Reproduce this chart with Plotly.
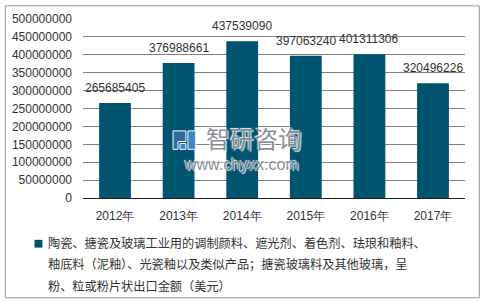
import plotly.graph_objects as go

# Export values (USD) by year
years = ["2012年", "2013年", "2014年", "2015年", "2016年", "2017年"]
export_usd = [265685405, 376988661, 437539090, 397063240, 401311306, 320496226]

legend_lines = [
    "陶瓷、搪瓷及玻璃工业用的调制颜料、遮光剂、着色剂、珐琅和釉料、",
    "釉底料（泥釉）、光瓷釉以及类似产品；搪瓷玻璃料及其他玻璃，呈",
    "粉、粒或粉片状出口金额（美元）",
]

W, H = 480, 301
L, R, T, B = 79, 15, 14, 103
PW, PH = W - L - R, H - T - B

BAR = "#005470"
TXT = "#333333"
LAT = "Liberation Sans, Arial, sans-serif"
CJK = "Noto Sans CJK SC, sans-serif"


def px(x):
    return (x - L) / PW


def py(y):
    return (H - B - y) / PH


fig = go.Figure(
    go.Bar(
        x=years,
        y=export_usd,
        marker=dict(color=BAR, line=dict(width=0)),
        showlegend=False,
    )
)

shapes = [
    # outer frame
    dict(type="rect", xref="paper", yref="paper",
         x0=px(0.5), x1=px(W - 0.5), y0=py(H - 0.5), y1=py(0.5),
         line=dict(color="#9a9a9a", width=1), layer="above"),
    # legend swatch
    dict(type="rect", xref="paper", yref="paper",
         x0=px(30), x1=px(38), y0=py(249), y1=py(241),
         fillcolor=BAR, line=dict(width=0)),
    # watermark logo
    dict(type="path", xref="paper", yref="paper",
         path=f"M {px(170)} {py(129)} L {px(183)} {py(129)} L {px(183)} {py(140)} "
              f"L {px(175)} {py(140)} L {px(175)} {py(148)} L {px(170)} {py(148)} Z",
         fillcolor="rgba(60,110,160,0.85)", line=dict(color="white", width=1)),
    dict(type="rect", xref="paper", yref="paper",
         x0=px(185), x1=px(193), y0=py(148), y1=py(129),
         fillcolor="rgba(70,140,205,0.85)", line=dict(color="white", width=1)),
    dict(type="rect", xref="paper", yref="paper",
         x0=px(177), x1=px(183), y0=py(148), y1=py(142),
         fillcolor="rgba(70,140,205,0.85)", line=dict(color="white", width=1)),
]

# value labels above each bar
annotations = [
    dict(text=str(v), x=yr, y=v, xref="x", yref="y",
         xanchor="center", yanchor="bottom", yshift=6, showarrow=False,
         font=dict(family=LAT, size=12, color=TXT))
    for yr, v in zip(years, export_usd)
]

for line, yc in zip(legend_lines, [244, 266, 288]):
    annotations.append(dict(
        text=line, xref="paper", yref="paper", x=px(42), y=py(yc),
        xanchor="left", yanchor="middle", showarrow=False,
        font=dict(family=CJK, size=12.2, color=TXT),
    ))

annotations += [
    dict(text="智研咨询", xref="paper", yref="paper", x=px(252), y=py(136),
         xanchor="center", yanchor="middle", showarrow=False,
         font=dict(family=CJK, size=24, color="rgba(120,130,140,0.9)",
                   shadow="1px 1px 1px white, -1px -1px 1px white")),
    dict(text="www.chyxx.com", xref="paper", yref="paper", x=px(239), y=py(164),
         xanchor="center", yanchor="middle", showarrow=False,
         font=dict(family=LAT, size=16, color="rgba(120,130,140,0.9)",
                   shadow="1px 1px 1px white, -1px -1px 1px white")),
]

fig.update_layout(
    width=W, height=H,
    margin=dict(l=L, r=R, t=T, b=B, pad=0),
    paper_bgcolor="white", plot_bgcolor="white",
    bargap=0.5,
    xaxis=dict(
        showgrid=False, showline=True, linecolor="#222222", linewidth=1,
        ticks="", ticklabelstandoff=7,
        tickfont=dict(family=LAT, size=12, color=TXT),
        fixedrange=True,
    ),
    yaxis=dict(
        range=[0, 500000000], dtick=50000000, tickformat="d",
        showgrid=True, gridcolor="#808080", gridwidth=1,
        zeroline=False, showline=False, ticks="", ticklabelstandoff=10,
        tickfont=dict(family=LAT, size=12, color=TXT),
        fixedrange=True,
    ),
    shapes=shapes,
    annotations=annotations,
    showlegend=False,
)

fig.write_html("out.html")
